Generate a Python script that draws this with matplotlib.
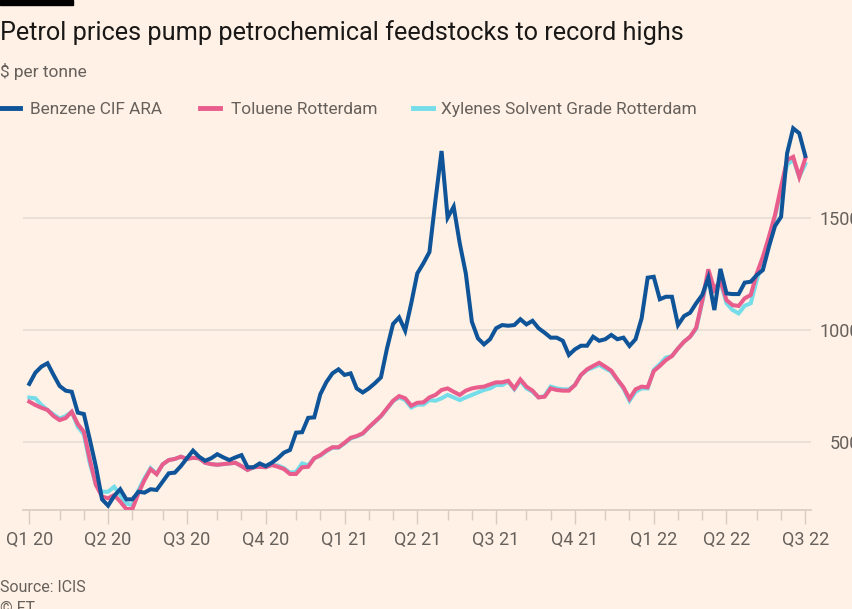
# Petrol prices pump petrochemical feedstocks to record highs (FT style)
import matplotlib
matplotlib.use("Agg")
import matplotlib.pyplot as plt
from matplotlib.lines import Line2D
from matplotlib.patches import Rectangle

# ── Data: weekly prices, $ per tonne, Q1 2020 → Q3 2022 ─────
benzene = [
    760, 810, 837, 852, 800, 751, 730, 725, 632, 626,
    510, 390, 246, 218, 261, 291, 246, 246, 280, 276,
    291, 288, 325, 362, 365, 394, 429, 463, 436, 418,
    429, 447, 433, 421, 433, 443, 389, 389, 406, 394,
    409, 429, 454, 466, 543, 545, 609, 611, 714, 768,
    807, 825, 800, 807, 740, 722, 740, 763, 789, 918,
    1027, 1056, 997, 1119, 1252, 1297, 1347, 1579, 1797, 1500,
    1549, 1386, 1252, 1037, 963, 936, 959, 1008, 1022, 1019,
    1022, 1048, 1025, 1041, 1008, 988, 966, 966, 952, 889,
    914, 930, 930, 970, 952, 959, 978, 959, 966, 929,
    959, 1052, 1233, 1237, 1137, 1148, 1148, 1022, 1062, 1077,
    1119, 1156, 1233, 1089, 1272, 1163, 1160, 1160, 1211, 1215,
    1245, 1267, 1371, 1463, 1504, 1787, 1898, 1876, 1775,
]
toluene = [
    681, 666, 654, 644, 617, 599, 608, 636, 581, 547,
    421, 310, 258, 251, 265, 236, 203, 203, 273, 332,
    380, 358, 402, 421, 426, 436, 426, 431, 429, 409,
    403, 400, 403, 406, 409, 394, 377, 389, 391, 389,
    399, 391, 381, 359, 359, 389, 391, 429, 443, 463,
    478, 478, 498, 520, 528, 540, 567, 592, 617, 651,
    685, 706, 696, 663, 676, 678, 700, 711, 733, 740,
    725, 711, 730, 740, 745, 748, 758, 767, 767, 774,
    740, 780, 748, 730, 700, 703, 740, 733, 730, 730,
    755, 800, 825, 840, 854, 837, 819, 780, 745, 694,
    736, 748, 745, 817, 840, 866, 884, 918, 948, 970,
    1010, 1130, 1270, 1180, 1220, 1133, 1111, 1107, 1141, 1156,
    1252, 1326, 1415, 1512, 1638, 1757, 1771, 1682, 1764,
]
xylenes = [
    699, 696, 666, 644, 624, 606, 617, 636, 569, 535,
    405, 310, 280, 280, 302, 265, 228, 220, 287, 340,
    385, 360, 402, 421, 426, 436, 426, 431, 429, 409,
    403, 400, 403, 406, 409, 394, 377, 389, 391, 389,
    399, 397, 385, 365, 368, 406, 398, 429, 440, 460,
    476, 476, 495, 517, 526, 538, 565, 590, 615, 649,
    683, 700, 688, 655, 668, 668, 688, 685, 696, 711,
    700, 688, 700, 711, 722, 733, 740, 755, 755, 770,
    736, 774, 740, 725, 700, 706, 748, 740, 736, 736,
    755, 800, 822, 833, 845, 829, 814, 777, 740, 685,
    725, 740, 740, 822, 848, 877, 884, 918, 948, 970,
    1005, 1125, 1245, 1180, 1215, 1119, 1089, 1074, 1108, 1119,
    1223, 1312, 1408, 1505, 1623, 1735, 1760, 1682, 1739,
]

# Week index of each month start (minor ticks) and quarter start (labelled)
month_weeks = [0, 5, 9, 13, 17, 22, 26, 31, 35, 39, 44, 48, 52, 56, 60, 64,
               69, 73, 77, 82, 86, 90, 95, 99, 103, 107, 111, 115, 120, 124, 128]
quarter_weeks = [0, 13, 26, 39, 52, 64, 77, 90, 103, 115, 128]
quarter_labels = ["Q1 20", "Q2 20", "Q3 20", "Q4 20", "Q1 21", "Q2 21",
                  "Q3 21", "Q4 21", "Q1 22", "Q2 22", "Q3 22"]
y_ticks = [500, 1000, 1500]

# ── Style ───────────────────────────────────────────────────
BG = "#FFF1E5"
BLUE = "#0F5499"
PINK = "#E95D8C"
CYAN = "#75DCE9"
GREY = "#66605C"
GRID = "#E8DDD3"
AXIS = "#D8CCC2"
FONT = "Roboto"

plt.rcParams["font.family"] = [FONT, "DejaVu Sans"]

fig = plt.figure(figsize=(8.52, 6.09), dpi=100, facecolor=BG)
ax = fig.add_axes([23 / 852, 99.3 / 609, 788 / 852, 389.7 / 609], facecolor=BG)

weeks = list(range(len(benzene)))
ax.plot(weeks, xylenes, color=CYAN, lw=2.9, solid_joinstyle="miter", zorder=3)
ax.plot(weeks, toluene, color=PINK, lw=2.9, solid_joinstyle="miter", zorder=4)
ax.plot(weeks, benzene, color=BLUE, lw=2.9, solid_joinstyle="miter", zorder=5)

ax.set_xlim(-1.04, 128.94)
ax.set_ylim(200, 1935)

# Axes cosmetics
for side in ["top", "left", "right"]:
    ax.spines[side].set_visible(False)
ax.spines["bottom"].set_color(AXIS)
ax.spines["bottom"].set_linewidth(1.2)

ax.set_xticks(quarter_weeks)
ax.set_xticklabels(quarter_labels)
ax.set_xticks(month_weeks, minor=True)
ax.tick_params(axis="x", which="major", length=10, width=1, color=AXIS,
               labelsize=13, labelcolor=GREY, pad=5)
ax.tick_params(axis="x", which="minor", length=7, width=1, color=AXIS)

# Right-hand value labels, partly running off the edge as in the FT graphic
ax.yaxis.tick_right()
ax.set_yticks(y_ticks)
ax.set_yticklabels([str(v) for v in y_ticks])
ax.tick_params(axis="y", length=0, labelsize=13, labelcolor=GREY, pad=35)
for lbl in ax.get_yticklabels():
    lbl.set_horizontalalignment("right")
ax.grid(axis="y", color=GRID, lw=1.2)
ax.set_axisbelow(True)

# ── Titles, legend and footer ───────────────────────────────
fig.patches.append(Rectangle((0, 1 - 5 / 609), 73 / 852, 5 / 609,
                             transform=fig.transFigure, color="black"))
fig.text(0.0, 1 - 40 / 609, "Petrol prices pump petrochemical feedstocks to record highs",
         fontsize=18.2, color="#1A1817", va="baseline", ha="left")
fig.text(0.0, 1 - 77 / 609, "$ per tonne", fontsize=12.5, color=GREY,
         va="baseline", ha="left")

legend_items = [("Benzene CIF ARA", BLUE, 0, 30),
                ("Toluene Rotterdam", PINK, 200, 231),
                ("Xylenes Solvent Grade Rotterdam", CYAN, 413, 441)]
for name, col, x_line, x_text in legend_items:
    fig.lines.append(Line2D([x_line / 852, (x_line + 20) / 852],
                            [1 - 108 / 609, 1 - 108 / 609],
                            transform=fig.transFigure, color=col, lw=3.5))
    fig.text(x_text / 852, 1 - 114 / 609, name, fontsize=12.4, color=GREY,
             va="baseline", ha="left")

fig.text(0.0, 1 - 592 / 609, "Source: ICIS", fontsize=11.5, color=GREY,
         va="baseline", ha="left")
fig.text(0.0, 1 - 613 / 609, "© FT", fontsize=11.5, color=GREY,
         va="baseline", ha="left")

fig.savefig("out.png", dpi=100, facecolor=BG)
